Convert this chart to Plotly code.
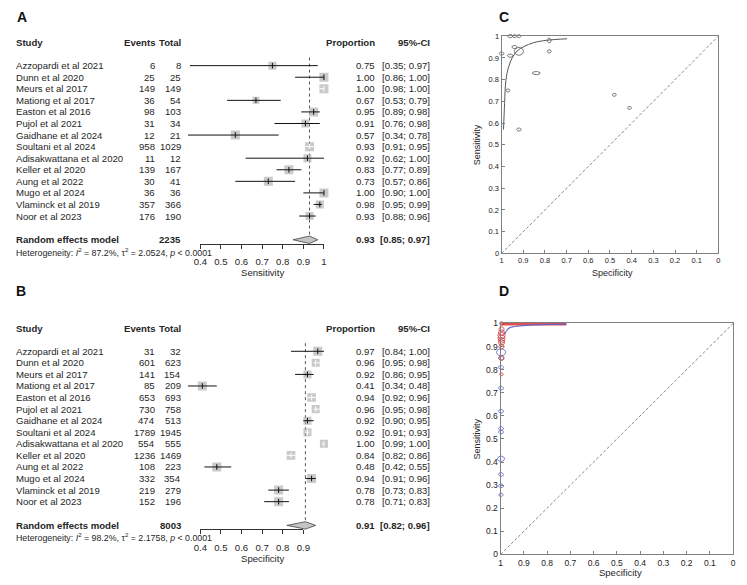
import math
import plotly.graph_objects as go

# ---------------- data ----------------
studies = ["Azzopardi et al 2021", "Dunn et al 2020", "Meurs et al 2017", "Mationg et al 2017",
           "Easton et al 2016", "Pujol et al 2021", "Gaidhane et al 2024", "Soultani et al 2024",
           "Adisakwattana et al 2020", "Keller et al 2020", "Aung et al 2022", "Mugo et al 2024",
           "Vlaminck et al 2019", "Noor et al 2023"]

sens_events = [6, 25, 149, 36, 98, 31, 12, 958, 11, 139, 30, 36, 357, 176]
sens_total = [8, 25, 149, 54, 103, 34, 21, 1029, 12, 167, 41, 36, 366, 190]
sens_prop = [0.75, 1.00, 1.00, 0.67, 0.95, 0.91, 0.57, 0.93, 0.92, 0.83, 0.73, 1.00, 0.98, 0.93]
sens_lo = [0.35, 0.86, 0.98, 0.53, 0.89, 0.76, 0.34, 0.91, 0.62, 0.77, 0.57, 0.90, 0.95, 0.88]
sens_hi = [0.97, 1.00, 1.00, 0.79, 0.98, 0.98, 0.78, 0.95, 1.00, 0.89, 0.86, 1.00, 0.99, 0.96]
sens_weight = [6.7, 7.5, 7.5, 5.8, 7.5, 6.7, 7.5, 7.5, 6.7, 7.5, 7.5, 7.5, 6.7, 6.7]
sens_pooled = [0.93, 0.85, 0.97]
sens_total_n = 2235
sens_het = ["87.2%", "2.0524", "0.0001"]
sens_ticks = [0.4, 0.5, 0.6, 0.7, 0.8, 0.9, 1.0]

spec_events = [31, 601, 141, 85, 653, 730, 474, 1789, 554, 1236, 108, 332, 219, 152]
spec_total = [32, 623, 154, 209, 693, 758, 513, 1945, 555, 1469, 223, 354, 279, 196]
spec_prop = [0.97, 0.96, 0.92, 0.41, 0.94, 0.96, 0.92, 0.92, 1.00, 0.84, 0.48, 0.94, 0.78, 0.78]
spec_lo = [0.84, 0.95, 0.86, 0.34, 0.92, 0.95, 0.90, 0.91, 0.99, 0.82, 0.42, 0.91, 0.73, 0.71]
spec_hi = [1.00, 0.98, 0.95, 0.48, 0.96, 0.98, 0.95, 0.93, 1.00, 0.86, 0.55, 0.96, 0.83, 0.83]
spec_weight = [7.5, 6.7, 6.7, 7.5, 7.2, 6.7, 6.7, 6.7, 6.7, 7.2, 7.5, 7.5, 7.5, 7.5]
spec_pooled = [0.91, 0.82, 0.96]
spec_total_n = 8003
spec_het = ["98.2%", "2.1758", "0.0001"]
spec_ticks = [0.4, 0.5, 0.6, 0.7, 0.8, 0.9]

roc_ticks = [0, 0.1, 0.2, 0.3, 0.4, 0.5, 0.6, 0.7, 0.8, 0.9, 1.0]

# panel C: SROC curve
sroc_c_spec = [0.991, 0.986, 0.980, 0.968, 0.950, 0.928, 0.897, 0.852, 0.792, 0.698]
sroc_c_sens = [0.570, 0.690, 0.796, 0.857, 0.902, 0.932, 0.952, 0.970, 0.981, 0.988]

# panel D
d_red_spec = [0.996, 0.996, 0.996, 0.996, 0.996, 0.996, 0.996, 0.996, 0.996, 0.996]
d_red_sens = [1.0, 0.975, 0.96, 0.948, 0.937, 0.927, 0.918, 0.90, 0.85, 0.78]
d_red_w = [2.2, 3.0, 3.5, 4.0, 4.0, 3.5, 3.5, 3.0, 3.0, 2.0]
d_blue_spec = [0.998, 0.998, 0.998, 0.998, 0.998, 0.998, 0.998, 0.998, 0.998, 0.998, 0.998]
d_blue_sens = [0.875, 0.85, 0.81, 0.72, 0.62, 0.545, 0.53, 0.414, 0.346, 0.297, 0.258]
d_blue_w = [5.5, 3.0, 3.0, 3.0, 3.0, 3.0, 3.0, 4.2, 3.0, 3.0, 2.6]
d_sroc_red_spec = [0.996, 0.9, 0.8, 0.717]
d_sroc_red_sens = [0.997, 0.997, 0.997, 0.997]
d_sroc_blue_spec = [0.982, 0.972, 0.960, 0.940, 0.900, 0.850, 0.780, 0.717]
d_sroc_blue_sens = [0.953, 0.972, 0.982, 0.987, 0.991, 0.994, 0.996, 0.997]

# ---------------- layout helpers ----------------
W, H = 747, 585
FONT = "Liberation Sans, Arial, sans-serif"
TXT = "#262626"


def px(x):
    return x / W


def py(y):
    return 1 - y / H


def names(n):
    s = "" if n == 1 else str(n)
    return "x" + s, "y" + s, "xaxis" + s, "yaxis" + s


fig = go.Figure()
layout_axes = {}
annotations = []
shapes = []

ROWH = 11.77
PPU = 210.0       # pixels per proportion unit in forest plots
X04 = 197.0       # pixel of 0.4
DX0, DX1 = 140.0, 350.0
FS = 9.6


def text(t, x, y, yref, anchor, size=FS, bold=False, xref="paper", color=TXT):
    if bold:
        t = "<b>" + t + "</b>"
    annotations.append(dict(text=t, x=x, y=y, xref=xref, yref=yref, xanchor=anchor,
                            yanchor="middle", showarrow=False,
                            font=dict(family=FONT, size=size, color=color)))


def add_forest(nd, ndisp, row0, ev, tot, prop, lo, hi, wts, pooled, total_n, het, ticks, xlabel):
    xd, yd, xdk, ydk = names(nd)
    xs, ys, xsk, ysk = names(ndisp)
    layout_axes[xdk] = dict(domain=[px(DX0), px(DX1)],
                            range=[0.4 + (DX0 - X04) / PPU, 0.4 + (DX1 - X04) / PPU],
                            visible=False, anchor=yd)
    layout_axes[ydk] = dict(domain=[py(row0 + 17 * ROWH), py(row0 - 3 * ROWH)],
                            range=[17, -3], visible=False, anchor=xd)
    axis_row = 15.4
    ay = row0 + axis_row * ROWH
    layout_axes[xsk] = dict(domain=[px(X04), px(X04 + (ticks[-1] - 0.4) * PPU)],
                            range=[ticks[0], ticks[-1]], anchor=ys, showline=True,
                            linecolor="#333", linewidth=1, ticks="outside", ticklen=4,
                            tickcolor="#333", tickvals=ticks, showgrid=False, zeroline=False,
                            ticklabelstandoff=5,
                            tickfont=dict(family=FONT, size=FS, color=TXT))
    layout_axes[ysk] = dict(domain=[py(ay), py(ay) + 0.001], range=[0, 1], visible=False, anchor=xs)
    fig.add_trace(go.Scatter(x=[None], y=[None], xaxis=xs, yaxis=ys, hoverinfo="skip"))

    n = len(prop)
    rows = list(range(n))
    sizes = [1.2 * w for w in wts]
    # dotted reference line at pooled estimate
    fig.add_trace(go.Scatter(x=[pooled[0], pooled[0]], y=[-0.7, axis_row], mode="lines",
                             line=dict(color="#555", width=1, dash="dot"),
                             xaxis=xd, yaxis=yd, hoverinfo="skip"))
    # squares
    fig.add_trace(go.Scatter(x=prop, y=rows, mode="markers",
                             marker=dict(symbol="square", size=sizes, color="#b4b4b4",
                                         line=dict(width=0)),
                             xaxis=xd, yaxis=yd, hoverinfo="skip"))
    # CI lines
    bx, by, wx, wy, tcol = [], [], [], [], []
    for i in range(n):
        inside = (hi[i] - lo[i]) * PPU < sizes[i]
        if inside:
            wx += [lo[i], hi[i], None]
            wy += [i, i, None]
            tcol.append("white")
        else:
            bx += [lo[i], hi[i], None]
            by += [i, i, None]
            tcol.append("#111")
    fig.add_trace(go.Scatter(x=bx, y=by, mode="lines", line=dict(color="#111", width=1),
                             xaxis=xd, yaxis=yd, hoverinfo="skip"))
    fig.add_trace(go.Scatter(x=wx, y=wy, mode="lines", line=dict(color="white", width=1),
                             xaxis=xd, yaxis=yd, hoverinfo="skip"))
    fig.add_trace(go.Scatter(x=prop, y=rows, mode="markers",
                             marker=dict(symbol="line-ns", size=4, line=dict(color=tcol, width=1)),
                             xaxis=xd, yaxis=yd, hoverinfo="skip"))
    # diamond
    sr = 15.05
    hh = 0.32
    fig.add_trace(go.Scatter(x=[pooled[1], pooled[0], pooled[2], pooled[0], pooled[1]],
                             y=[sr, sr - hh, sr, sr + hh, sr], mode="lines", fill="toself",
                             fillcolor="#c4c4c4", line=dict(color="#444", width=0.8),
                             xaxis=xd, yaxis=yd, hoverinfo="skip"))
    # texts
    XS, XE, XT, XP, XC = px(7.5), px(152.5), px(179.5), px(377.5), px(433.5)
    text("Study", XS, -2, yd, "left", bold=True)
    text("Events", XE, -2, yd, "right", bold=True)
    text("Total", XT, -2, yd, "right", bold=True)
    text("Proportion", XP, -2, yd, "right", bold=True)
    text("95%-CI", XC, -2, yd, "right", bold=True)
    for i in range(n):
        text(studies[i], XS, i, yd, "left")
        text(str(ev[i]), XE, i, yd, "right")
        text(str(tot[i]), XT, i, yd, "right")
        text("%.2f" % prop[i], XP, i, yd, "right")
        text("[%.2f; %.2f]" % (lo[i], hi[i]), XC, i, yd, "right")
    text("Random effects model", XS, sr, yd, "left", bold=True)
    text(str(total_n), XT, sr, yd, "right", bold=True)
    text("%.2f" % pooled[0], XP, sr, yd, "right", bold=True)
    text("[%.2f; %.2f]" % (pooled[1], pooled[2]), XC, sr, yd, "right", bold=True)
    text("Heterogeneity: <i>I</i><sup>2</sup> = %s, \u03c4<sup>2</sup> = %s, <i>p</i> &lt; %s"
         % (het[0], het[1], het[2]), XS, 16.08, yd, "left", size=8.8)
    text(xlabel, px(X04 + 0.6 * PPU * 0.5 + 0.5), py(row0 + 17.9 * ROWH), "paper", "center")


add_forest(1, 2, 61.7, sens_events, sens_total, sens_prop, sens_lo, sens_hi, sens_weight,
           sens_pooled, sens_total_n, sens_het, sens_ticks, "Sensitivity")
add_forest(3, 4, 352.3, spec_events, spec_total, spec_prop, spec_lo, spec_hi, spec_weight,
           spec_pooled, spec_total_n, spec_het, spec_ticks, "Specificity")


def ellipse_trace(cxs, cys, rxs, rys, sx, sy, color, width, xa, ya):
    xs, ys = [], []
    for cx, cy, rx, ry in zip(cxs, cys, rxs, rys):
        for k in range(41):
            t = 2 * math.pi * k / 40
            xs.append(cx + rx * math.cos(t) / sx)
            ys.append(cy + ry * math.sin(t) / sy)
        xs.append(None)
        ys.append(None)
    return go.Scatter(x=xs, y=ys, mode="lines", line=dict(color=color, width=width),
                      xaxis=xa, yaxis=ya, hoverinfo="skip")


def add_roc_axes(nd, ndisp, left, right, top, bottom, ext_l, ext_r, ext_t, ext_b, tfs, lcol):
    xd, yd, xdk, ydk = names(nd)
    xs, ys, xsk, ysk = names(ndisp)
    sx = (right - left)
    sy = (bottom - top)
    layout_axes[xsk] = dict(domain=[px(left), px(right)], range=[1, 0], anchor=ys,
                            showline=True, mirror=True, linecolor=lcol, linewidth=1,
                            ticks="inside", ticklen=3, tickcolor=lcol, tickvals=roc_ticks,
                            showgrid=False, zeroline=False,
                            tickfont=dict(family=FONT, size=tfs, color="#222"))
    layout_axes[ysk] = dict(domain=[py(bottom), py(top)], range=[0, 1], anchor=xs,
                            showline=True, mirror=True, linecolor=lcol, linewidth=1,
                            ticks="inside", ticklen=3, tickcolor=lcol, tickvals=roc_ticks,
                            showgrid=False, zeroline=False,
                            tickfont=dict(family=FONT, size=tfs, color="#222"))
    fig.add_trace(go.Scatter(x=[None], y=[None], xaxis=xs, yaxis=ys, hoverinfo="skip"))
    layout_axes[xdk] = dict(domain=[px(left - ext_l), px(right + ext_r)],
                            range=[1 + ext_l / sx, -ext_r / sx], visible=False, anchor=yd)
    layout_axes[ydk] = dict(domain=[py(bottom + ext_b), py(top - ext_t)],
                            range=[-ext_b / sy, 1 + ext_t / sy], visible=False, anchor=xd)
    shapes.append(dict(type="line", xref=xs + " domain", yref=ys + " domain", x0=0, y0=0, x1=1, y1=1,
                       line=dict(color="#888", width=1, dash="3px,2px")))
    return xd, yd, sx, sy


# ---------------- panel C ----------------
xc, yc, sxc, syc = add_roc_axes(5, 6, 504, 725, 31.7, 252.7, 15, 15, 15, 15, 7.5, "#808080")
fig.add_trace(go.Scatter(x=sroc_c_spec, y=sroc_c_sens, mode="lines", line=dict(color="#555", width=1, shape="spline"),
                         xaxis=xc, yaxis=yc, hoverinfo="skip"))
c_rx = [max(2.0, 0.105 * math.sqrt(t)) for t in spec_total]
c_ry = [max(1.6, 0.125 * math.sqrt(t)) for t in sens_total]
fig.add_trace(ellipse_trace(spec_prop, sens_prop, c_rx, c_ry, sxc, syc, "#555", 0.8, xc, yc))

# ---------------- panel D ----------------
xdd, ydd, sxd, syd = add_roc_axes(7, 8, 503, 740, 324, 559, 12, 6, 12, 12, 8.5, "#808080")
fig.add_trace(go.Scatter(x=d_sroc_red_spec, y=d_sroc_red_sens, mode="lines",
                         line=dict(color="rgba(215,50,50,0.85)", width=2.5),
                         xaxis=xdd, yaxis=ydd, hoverinfo="skip"))
fig.add_trace(go.Scatter(x=d_sroc_blue_spec, y=d_sroc_blue_sens, mode="lines",
                         line=dict(color="rgba(95,100,205,0.9)", width=1.2, shape="spline"),
                         xaxis=xdd, yaxis=ydd, hoverinfo="skip"))
fig.add_trace(ellipse_trace(d_blue_spec, d_blue_sens, [0.85 * w for w in d_blue_w],
                            [0.65 * w for w in d_blue_w], sxd, syd, "rgba(95,100,205,0.85)", 1, xdd, ydd))
fig.add_trace(ellipse_trace(d_red_spec, d_red_sens, [0.9 * w for w in d_red_w],
                            [0.8 * w for w in d_red_w], sxd, syd, "rgba(215,50,50,0.8)", 1, xdd, ydd))

# ---------------- titles / panel labels ----------------
text("Specificity", px(616.7), py(272.7), "paper", "center", size=9)
text("Specificity", px(625), py(577.7), "paper", "center", size=9.5)
for yy in (142.2, 441.5):
    annotations.append(dict(text="Sensitivity", x=px(478.5), y=py(yy), xref="paper", yref="paper",
                            xanchor="center", yanchor="middle", textangle=-90, showarrow=False,
                            font=dict(family=FONT, size=9, color="#222")))
for lab, lx, ly in (("A", 15, 12), ("B", 14.5, 291), ("C", 507, 12), ("D", 507, 291)):
    text(lab, px(lx), py(ly), "paper", "center", size=14, bold=True, color="#111")

fig.update_layout(width=W, height=H, margin=dict(l=0, r=0, t=0, b=0), showlegend=False,
                  paper_bgcolor="white", plot_bgcolor="rgba(0,0,0,0)",
                  annotations=annotations, shapes=shapes, **layout_axes)
fig.write_html("out.html")
